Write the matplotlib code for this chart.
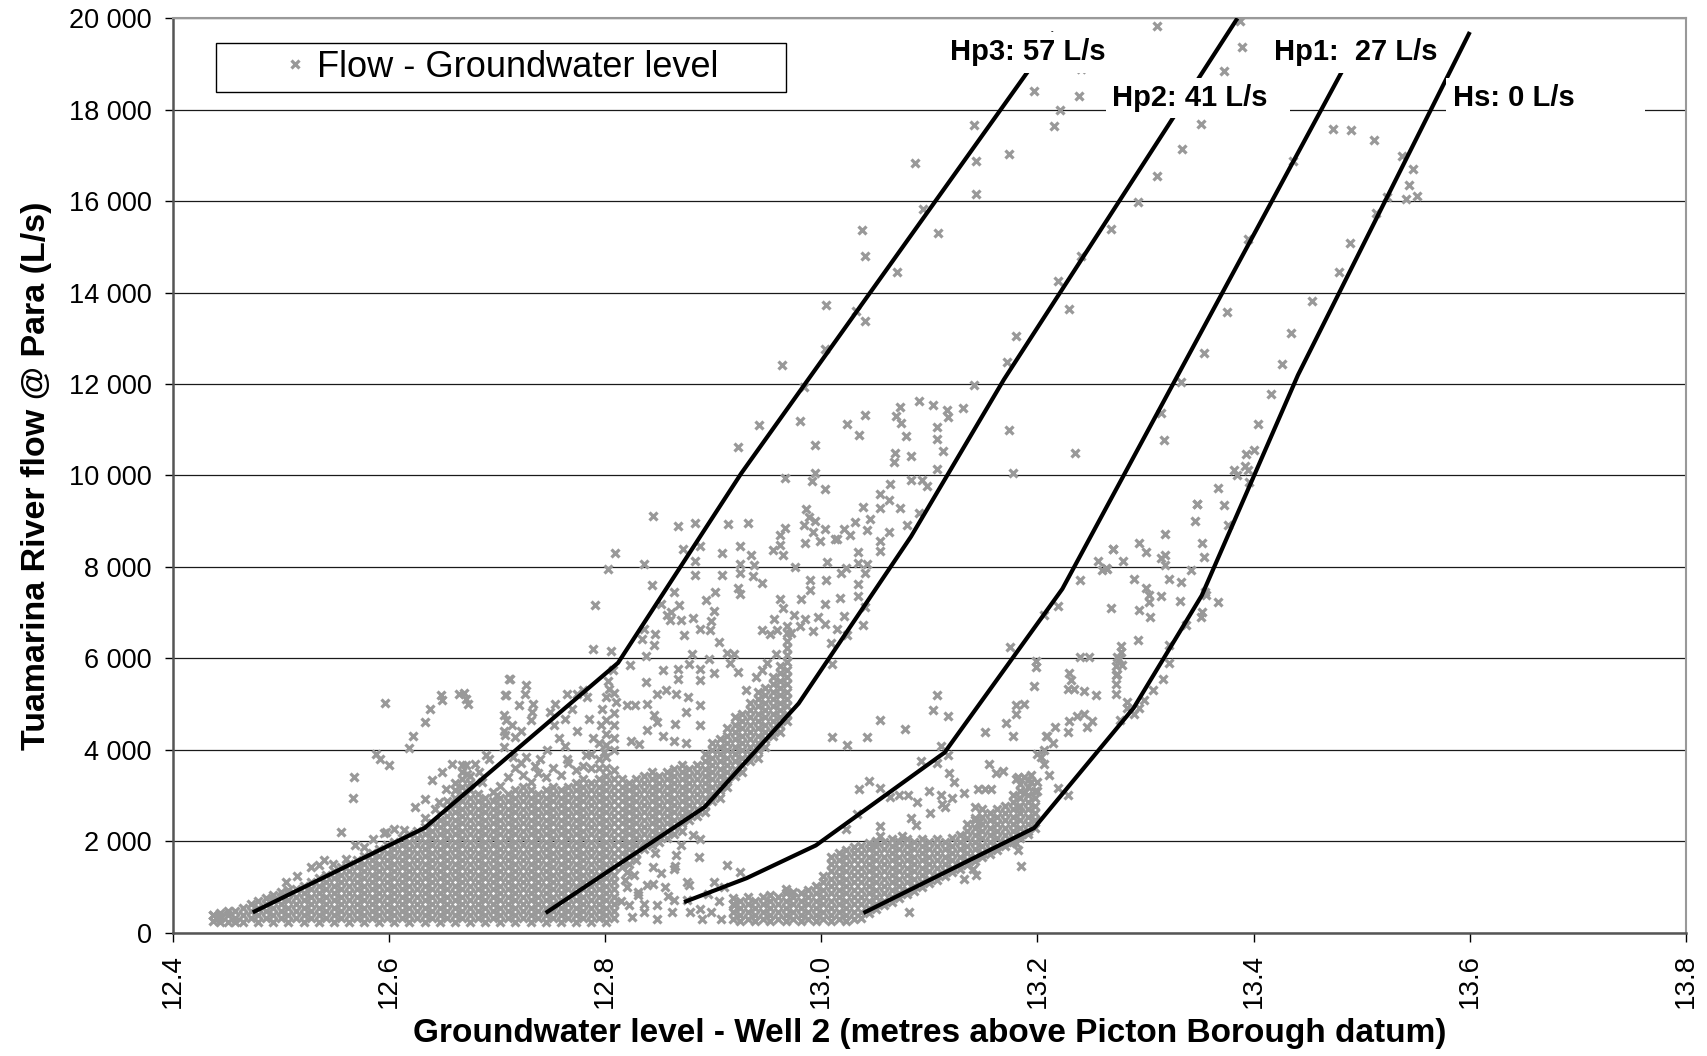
import numpy as np
import matplotlib
matplotlib.use("Agg")
import matplotlib.pyplot as plt
from matplotlib.legend_handler import HandlerLine2D
from matplotlib.ticker import FuncFormatter, MultipleLocator

plt.rcParams['font.family'] = ['Liberation Sans', 'DejaVu Sans']

# === data ===
# dense part of the cloud, column by column: (groundwater level [m], [flows L/s])
cloud_left = [
    (12.437, [250, 380]),
    (12.444, [240, 330, 430]),
    (12.451, [230, 390, 470]),
    (12.458, [230, 310, 470]),
    (12.465, [230, 390, 550]),
    (12.472, [310, 470, 630]),
    (12.479, [230, 390, 550, 690]),
    (12.486, [310, 470, 630, 760]),
    (12.493, [230, 390, 550, 710, 820]),
    (12.500, [310, 470, 630, 790, 880]),
    (12.507, [230, 390, 550, 710, 870, 930]),
    (12.514, [310, 470, 630, 790, 950]),
    (12.521, [230, 390, 550, 710, 870, 1030]),
    (12.528, [310, 470, 630, 790, 950, 1110]),
    (12.535, [230, 390, 550, 710, 870, 1030, 1190]),
    (12.542, [310, 470, 630, 790, 950, 1110, 1270]),
    (12.549, [230, 390, 550, 710, 870, 1030, 1190, 1350]),
    (12.556, [310, 470, 630, 790, 950, 1110, 1270, 1430]),
    (12.563, [230, 390, 550, 710, 870, 1030, 1190, 1350, 1510]),
    (12.570, [310, 470, 630, 790, 950, 1110, 1270, 1430, 1590]),
    (12.577, [230, 390, 550, 710, 870, 1030, 1190, 1350, 1510, 1670]),
    (12.584, [310, 470, 630, 790, 950, 1110, 1270, 1430, 1590, 1750]),
    (12.591, [230, 390, 550, 710, 870, 1030, 1190, 1350, 1510, 1670, 1830]),
    (12.598, [310, 470, 630, 790, 950, 1110, 1270, 1430, 1590, 1750, 1910]),
    (12.605, [230, 390, 550, 710, 870, 1030, 1190, 1350, 1510, 1670, 1830, 1990]),
    (12.612, [310, 470, 630, 790, 950, 1110, 1270, 1430, 1590, 1750, 1910, 2070]),
    (12.619, [230, 390, 550, 710, 870, 1030, 1190, 1350, 1510, 1670, 1830, 1990, 2150]),
    (12.626, [310, 470, 630, 790, 950, 1110, 1270, 1430, 1590, 1750, 1910, 2070, 2230]),
    (12.633, [230, 390, 550, 710, 870, 1030, 1190, 1350, 1510, 1670, 1830, 1990, 2150, 2310]),
    (12.640, [310, 470, 630, 790, 950, 1110, 1270, 1430, 1590, 1750, 1910, 2070, 2230, 2390]),
    (12.647, [230, 390, 550, 710, 870, 1030, 1190, 1350, 1510, 1670, 1830, 1990, 2150, 2310, 2470]),
    (12.654, [310, 470, 630, 790, 950, 1110, 1270, 1430, 1590, 1750, 1910, 2070, 2230, 2390, 2550, 2710, 2870]),
    (12.661, [230, 390, 550, 710, 870, 1030, 1190, 1350, 1510, 1670, 1830, 1990, 2150, 2310, 2470, 2630, 2790, 2950, 3110, 3270]),
    (12.668, [310, 470, 630, 790, 950, 1110, 1270, 1430, 1590, 1750, 1910, 2070, 2230, 2390, 2550, 2710, 2870, 3030, 3190, 3350, 3510, 3670]),
    (12.675, [230, 390, 550, 710, 870, 1030, 1190, 1350, 1510, 1670, 1830, 1990, 2150, 2310, 2470, 2630, 2790, 2950, 3110, 3270, 3430]),
    (12.682, [310, 470, 630, 790, 950, 1110, 1270, 1430, 1590, 1750, 1910, 2070, 2230, 2390, 2550, 2710, 2870, 3030]),
    (12.689, [230, 390, 550, 710, 870, 1030, 1190, 1350, 1510, 1670, 1830, 1990, 2150, 2310, 2470, 2630, 2790, 2950]),
    (12.696, [310, 470, 630, 790, 950, 1110, 1270, 1430, 1590, 1750, 1910, 2070, 2230, 2390, 2550, 2710, 2870]),
    (12.703, [230, 390, 550, 710, 870, 1030, 1190, 1350, 1510, 1670, 1830, 1990, 2150, 2310, 2470, 2630, 2790, 2950]),
    (12.710, [310, 470, 630, 790, 950, 1110, 1270, 1430, 1590, 1750, 1910, 2070, 2230, 2390, 2550, 2710, 2870, 3030]),
    (12.717, [230, 390, 550, 710, 870, 1030, 1190, 1350, 1510, 1670, 1830, 1990, 2150, 2310, 2470, 2630, 2790, 2950, 3110]),
    (12.724, [310, 470, 630, 790, 950, 1110, 1270, 1430, 1590, 1750, 1910, 2070, 2230, 2390, 2550, 2710, 2870, 3030, 3190]),
    (12.731, [230, 390, 550, 710, 870, 1030, 1190, 1350, 1510, 1670, 1830, 1990, 2150, 2310, 2470, 2630, 2790, 2950, 3110]),
    (12.738, [310, 470, 630, 790, 950, 1110, 1270, 1430, 1590, 1750, 1910, 2070, 2230, 2390, 2550, 2710, 2870, 3030]),
    (12.745, [230, 390, 550, 710, 870, 1030, 1190, 1350, 1510, 1670, 1830, 1990, 2150, 2310, 2470, 2630, 2790, 2950, 3110]),
    (12.752, [310, 470, 630, 790, 950, 1110, 1270, 1430, 1590, 1750, 1910, 2070, 2230, 2390, 2550, 2710, 2870, 3030, 3190]),
    (12.759, [230, 390, 550, 710, 870, 1030, 1190, 1350, 1510, 1670, 1830, 1990, 2150, 2310, 2470, 2630, 2790, 2950, 3110]),
    (12.766, [310, 470, 630, 790, 950, 1110, 1270, 1430, 1590, 1750, 1910, 2070, 2230, 2390, 2550, 2710, 2870, 3030, 3190]),
    (12.773, [230, 390, 550, 710, 870, 1030, 1190, 1350, 1510, 1670, 1830, 1990, 2150, 2310, 2470, 2630, 2790, 2950, 3110, 3270]),
    (12.780, [310, 470, 630, 790, 950, 1110, 1270, 1430, 1590, 1750, 1910, 2070, 2230, 2390, 2550, 2710, 2870, 3030, 3190, 3350]),
    (12.787, [230, 390, 550, 710, 870, 1030, 1190, 1350, 1510, 1670, 1830, 1990, 2150, 2310, 2470, 2630, 2790, 2950, 3110, 3270]),
    (12.794, [310, 470, 630, 790, 950, 1110, 1270, 1430, 1590, 1750, 1910, 2070, 2230, 2390, 2550, 2710, 2870, 3030, 3190, 3350]),
    (12.801, [230, 390, 550, 710, 870, 1030, 1190, 1350, 1510, 1670, 1830, 1990, 2150, 2310, 2470, 2630, 2790, 2950, 3110, 3270, 3430]),
    (12.808, [310, 470, 630, 790, 950, 1110, 1270, 1430, 1590, 1750, 1910, 2070, 2230, 2390, 2550, 2710, 2870, 3030, 3190, 3350]),
]

cloud_mid = [
    (12.816, [1430, 1590, 1750, 1910, 2070, 2230, 2390, 2550, 2710, 2870, 3030, 3190, 3350]),
    (12.822, [1510, 1670, 1830, 1990, 2150, 2310, 2470, 2630, 2790, 2950, 3110, 3270]),
    (12.829, [1590, 1750, 1910, 2070, 2230, 2390, 2550, 2710, 2870, 3030, 3190, 3350]),
    (12.836, [1830, 1990, 2150, 2310, 2470, 2630, 2790, 2950, 3110, 3270, 3430]),
    (12.843, [1910, 2070, 2230, 2390, 2550, 2710, 2870, 3030, 3190, 3350, 3510]),
    (12.850, [1990, 2150, 2310, 2470, 2630, 2790, 2950, 3110, 3270, 3430]),
    (12.857, [2070, 2230, 2390, 2550, 2710, 2870, 3030, 3190, 3350, 3510]),
    (12.864, [2150, 2310, 2470, 2630, 2790, 2950, 3110, 3270, 3430, 3590]),
    (12.871, [2230, 2390, 2550, 2710, 2870, 3030, 3190, 3350, 3510, 3670]),
    (12.878, [2470, 2630, 2790, 2950, 3110, 3270, 3430, 3590]),
    (12.885, [2550, 2710, 2870, 3030, 3190, 3350, 3510, 3670]),
    (12.892, [2630, 2790, 2950, 3110, 3270, 3430, 3590, 3750, 3910]),
    (12.899, [2870, 3030, 3190, 3350, 3510, 3670, 3830, 3990, 4150]),
    (12.906, [2950, 3110, 3270, 3430, 3590, 3750, 3910, 4070, 4230]),
    (12.913, [3190, 3350, 3510, 3670, 3830, 3990, 4150, 4310, 4470]),
    (12.920, [3430, 3590, 3750, 3910, 4070, 4230, 4390, 4550, 4710]),
    (12.927, [3510, 3670, 3830, 3990, 4150, 4310, 4470, 4630, 4790]),
    (12.934, [3750, 3910, 4070, 4230, 4390, 4550, 4710, 4870, 5030]),
    (12.941, [3830, 3990, 4150, 4310, 4470, 4630, 4790, 4950, 5110, 5270]),
    (12.948, [4070, 4230, 4390, 4550, 4710, 4870, 5030, 5190, 5350]),
    (12.955, [4310, 4470, 4630, 4790, 4950, 5110, 5270, 5430, 5590]),
    (12.962, [4390, 4550, 4710, 4870, 5030, 5190, 5350, 5510, 5670, 5830]),
    (12.968, [4630, 4790, 4950, 5110, 5270, 5430, 5590, 5750, 5910, 6070, 6230, 6390, 6550, 6710]),
]

cloud_low = [
    (12.918, [300, 460, 620, 760]),
    (12.925, [250, 380, 540, 700]),
    (12.932, [300, 460, 620, 780]),
    (12.939, [250, 380, 540, 700]),
    (12.946, [300, 460, 620, 780]),
    (12.953, [250, 380, 540, 700, 820]),
    (12.960, [300, 460, 620, 780]),
    (12.967, [250, 380, 540, 700, 860, 960]),
    (12.974, [300, 460, 620, 780, 900]),
    (12.981, [250, 380, 540, 700, 860]),
    (12.988, [300, 460, 620, 780, 940]),
    (12.995, [250, 380, 540, 700, 860, 1020]),
    (13.002, [300, 460, 620, 780, 940, 1100, 1250]),
    (13.009, [250, 380, 540, 700, 860, 1020, 1180, 1340, 1500, 1650]),
    (13.016, [300, 460, 620, 780, 940, 1100, 1260, 1420, 1580, 1740]),
    (13.023, [250, 380, 540, 700, 860, 1020, 1180, 1340, 1500, 1660, 1800]),
    (13.030, [300, 460, 620, 780, 940, 1100, 1260, 1420, 1580, 1740, 1880]),
    (13.037, [330, 460, 620, 780, 940, 1100, 1260, 1420, 1580, 1740, 1900]),
    (13.044, [420, 540, 700, 860, 1020, 1180, 1340, 1500, 1660, 1820, 1960]),
    (13.051, [520, 620, 780, 940, 1100, 1260, 1420, 1580, 1740, 1900, 2000]),
    (13.058, [600, 700, 860, 1020, 1180, 1340, 1500, 1660, 1820, 1980]),
    (13.065, [680, 780, 940, 1100, 1260, 1420, 1580, 1740, 1900, 2040]),
    (13.072, [760, 860, 1020, 1180, 1340, 1500, 1660, 1820, 1980]),
    (13.079, [840, 940, 1100, 1260, 1420, 1580, 1740, 1900, 2040]),
    (13.086, [920, 1020, 1180, 1340, 1500, 1660, 1820, 1980]),
    (13.093, [1000, 1100, 1260, 1420, 1580, 1740, 1900, 2040]),
    (13.100, [1080, 1180, 1340, 1500, 1660, 1820, 1980]),
    (13.107, [1160, 1260, 1420, 1580, 1740, 1900, 2040]),
    (13.114, [1240, 1340, 1500, 1660, 1820, 1980]),
    (13.121, [1320, 1420, 1580, 1740, 1900, 2060]),
    (13.128, [1400, 1500, 1660, 1820, 1980, 2140]),
    (13.135, [1480, 1580, 1740, 1900, 2060, 2220, 2380]),
    (13.142, [1560, 1660, 1820, 1980, 2140, 2300, 2460]),
    (13.149, [1650, 1740, 1900, 2060, 2220, 2380, 2540, 2700]),
    (13.156, [1730, 1820, 1980, 2140, 2300, 2460, 2620]),
    (13.163, [1810, 1900, 2060, 2220, 2380, 2540, 2700]),
    (13.170, [1900, 1980, 2140, 2300, 2460, 2620, 2780]),
    (13.177, [1980, 2060, 2220, 2380, 2540, 2700, 2860, 3020]),
    (13.184, [2060, 2140, 2300, 2460, 2620, 2780, 2940, 3100, 3260]),
    (13.191, [2150, 2220, 2380, 2540, 2700, 2860, 3020, 3180, 3340]),
    (13.198, [2300, 2460, 2620, 2780, 2940, 3100]),
]

# loose points: (groundwater level [m], flow [L/s])
loose_left = [
    (12.437, 379), (12.444, 350), (12.505, 1100), (12.515, 1230), (12.528, 1437),
    (12.535, 1473), (12.540, 1583), (12.548, 1500), (12.556, 2202), (12.560, 1620),
    (12.569, 1910), (12.577, 1873), (12.585, 2056), (12.595, 2180), (12.597, 2202),
    (12.605, 2275), (12.614, 2253), (12.624, 2749), (12.633, 2516), (12.633, 2931),
    (12.643, 2712), (12.646, 2859), (12.640, 3332), (12.649, 3514), (12.653, 3149),
    (12.658, 3696), (12.671, 3660), (12.672, 3478), (12.680, 3696), (12.690, 3879),
    (12.693, 3806), (12.683, 3514), (12.696, 3076), (12.700, 3003), (12.686, 3300),
    (12.567, 2953), (12.568, 3404), (12.596, 5031), (12.588, 3915), (12.592, 3791),
    (12.600, 3660), (12.619, 4047), (12.622, 4295), (12.633, 4608), (12.638, 4893),
    (12.648, 5192), (12.649, 5082), (12.665, 5213), (12.669, 5242), (12.673, 5009),
    (12.671, 5120), (12.706, 4061), (12.707, 4316), (12.708, 4644), (12.708, 5191),
    (12.711, 5556),
]

loose_mid = [
    (12.712, 5555), (12.727, 5409), (12.726, 5227), (12.707, 5190), (12.720, 4972),
    (12.733, 5009), (12.732, 4826), (12.731, 4644), (12.706, 4753), (12.714, 4549),
    (12.706, 4403), (12.722, 4403), (12.717, 4279), (12.754, 5009), (12.749, 4826),
    (12.753, 4534), (12.765, 5227), (12.774, 5227), (12.783, 5150), (12.763, 4680),
    (12.769, 4900), (12.780, 5300), (12.774, 4403), (12.757, 4257), (12.763, 4080),
    (12.785, 4680), (12.789, 4257), (12.796, 4534), (12.797, 4899), (12.804, 5336),
    (12.807, 5737), (12.803, 5500), (12.810, 5045), (12.799, 3950), (12.808, 4000),
    (12.740, 3804), (12.727, 3840), (12.746, 4000), (12.782, 3877), (12.765, 3800),
    (12.791, 7174), (12.789, 6197), (12.805, 6160), (12.809, 8311), (12.803, 7946),
    (12.801, 3600), (12.801, 3850), (12.801, 4100), (12.801, 4350), (12.801, 4650),
    (12.801, 5150), (12.808, 3550), (12.808, 4250), (12.808, 4550), (12.808, 4800),
    (12.808, 5250), (12.794, 3600), (12.794, 3800), (12.794, 4150), (12.787, 3600),
    (12.787, 3900), (12.703, 3200), (12.710, 3400), (12.717, 3600), (12.724, 3450),
    (12.731, 3300), (12.738, 3500), (12.745, 3400), (12.752, 3600), (12.759, 3450),
    (12.766, 3700), (12.773, 3550), (12.780, 3650), (12.715, 3850), (12.722, 3700),
    (12.735, 3650),
    # between the Hp3 and Hp2 lines
    (12.820, 4972), (12.828, 4972), (12.839, 5009), (12.824, 4184), (12.831, 4133),
    (12.839, 4439), (12.845, 4753), (12.854, 4293), (12.864, 4184), (12.865, 4571),
    (12.875, 4155), (12.888, 4534), (12.888, 4972), (12.875, 4826), (12.866, 5227),
    (12.877, 5150), (12.838, 5482), (12.848, 5227), (12.856, 5300), (12.848, 4614),
    (12.823, 5847), (12.838, 6050), (12.834, 6430), (12.845, 6284), (12.836, 6649),
    (12.846, 6539), (12.854, 5737), (12.867, 5774), (12.867, 5555), (12.878, 5883),
    (12.888, 5759), (12.888, 5518), (12.880, 6101), (12.896, 5993), (12.905, 6357),
    (12.913, 6116), (12.919, 6100), (12.916, 5905), (12.923, 5701), (12.901, 5679),
    (12.857, 6941), (12.860, 6830), (12.864, 7444), (12.843, 7604), (12.868, 7174),
    (12.852, 7196), (12.861, 7014), (12.870, 6846), (12.881, 6883), (12.888, 6649),
    (12.873, 6518), (12.893, 7269), (12.902, 7451), (12.901, 7028), (12.898, 6810),
    (12.897, 6628), (12.844, 9113), (12.867, 8887), (12.883, 8967), (12.914, 8946),
    (12.932, 8967), (12.966, 8851), (12.986, 9272), (12.989, 9100), (12.994, 9000),
    (12.984, 8909), (12.992, 8763), (12.985, 8530), (12.999, 8559), (13.013, 8617),
    (13.003, 8836), (12.962, 8690), (12.962, 8471), (12.965, 8267), (12.955, 8362),
    (12.836, 8070), (12.872, 8384), (12.883, 8121), (12.888, 8457), (12.908, 8311),
    (12.925, 8449), (12.935, 8253), (12.938, 8049), (12.925, 8056), (12.925, 7867),
    (12.937, 7794), (12.945, 7648), (12.923, 7546), (12.925, 7415), (12.908, 7816),
    (12.883, 7816), (12.962, 7305), (12.965, 7108), (12.956, 6868), (12.945, 6613),
    (12.953, 6540), (12.959, 6613), (12.975, 6941), (12.981, 7305), (12.990, 7706),
    (12.990, 7488), (13.003, 7196), (13.003, 6758), (13.004, 7721), (13.005, 8100),
    (12.976, 7999), (12.980, 6700), (12.985, 6850), (12.992, 6600), (12.997, 6900),
    (12.972, 6550), (12.966, 9952), (12.994, 10054), (12.991, 9879), (13.003, 9712),
    (12.930, 5300), (12.940, 5600), (12.950, 5900), (12.958, 6100), (12.945, 5750),
    # under the Hp2 line
    (12.820, 1327), (12.839, 1035), (12.844, 1436), (12.864, 1400), (12.870, 1910),
    (12.881, 2129), (12.888, 2056), (12.848, 597), (12.822, 597), (12.836, 634),
    (12.848, 306), (12.862, 452), (12.865, 1450), (12.876, 1108), (12.844, 1071),
    (12.827, 1254), (12.830, 900), (12.864, 707), (12.855, 1000), (12.887, 1655),
    (12.866, 1700), (12.846, 1750), (12.830, 816), (12.836, 452), (12.878, 1035),
    (12.820, 1000), (12.825, 350), (12.815, 700), (12.818, 1150), (12.852, 1300),
    (12.858, 800), (12.876, 707), (12.879, 452), (12.888, 524), (12.898, 452),
    (12.901, 1108), (12.913, 1473), (12.925, 1327), (12.919, 597), (12.907, 306),
    (12.895, 850), (12.905, 700), (12.890, 300), (12.910, 1000),
]

loose_upper = [
    (13.311, 19830), (13.240, 18881), (13.197, 18407), (13.238, 18298), (13.221, 17999),
    (13.215, 17642), (13.141, 17671), (13.174, 17029), (13.143, 16883), (13.143, 16161),
    (13.087, 16840), (13.094, 15819), (13.108, 15309), (13.038, 15367), (13.040, 14799),
    (13.070, 14449), (13.311, 16551), (13.293, 15982), (13.268, 15384), (13.240, 14799),
    (13.219, 14252), (13.229, 13647), (13.180, 13049), (13.172, 12480), (13.141, 11969),
    (13.004, 13721), (13.032, 13590), (13.040, 13371), (13.003, 12758), (12.964, 12407),
    (12.984, 11933), (12.942, 11094), (12.980, 11189), (12.923, 10620), (12.994, 10671),
    (13.024, 11131), (13.040, 11313), (13.035, 10875), (13.069, 11298), (13.073, 11495),
    (13.074, 11153), (13.078, 10861), (13.090, 11627), (13.103, 11547), (13.116, 11423),
    (13.117, 11277), (13.107, 11058), (13.107, 10803), (13.131, 11474), (13.174, 10985),
    (13.068, 10482), (13.083, 10423), (13.113, 10540), (13.235, 10482),
    (13.387, 19950), (13.389, 19372), (13.373, 18850), (13.351, 17694), (13.334, 17133),
    (13.473, 17584), (13.490, 17562), (13.511, 17329), (13.537, 16986), (13.547, 16695),
    (13.544, 16345), (13.551, 16112), (13.541, 16054), (13.523, 16090), (13.513, 15748),
    (13.436, 16870), (13.489, 15086), (13.479, 14452), (13.454, 13810), (13.435, 13118),
    (13.426, 12447), (13.416, 11791), (13.404, 11135), (13.400, 10552), (13.393, 10479),
    (13.392, 10209), (13.395, 10115), (13.382, 10115), (13.385, 10000), (13.396, 9858),
    (13.367, 9727), (13.348, 9370), (13.373, 9348), (13.395, 15180), (13.375, 13576),
    (13.354, 12687), (13.333, 12045), (13.314, 11367), (13.317, 10771),
]

loose_right = [
    (13.064, 9812), (13.083, 9890), (13.093, 9906), (13.098, 9773), (13.107, 10149),
    (13.054, 9601), (13.063, 9461), (13.039, 9305), (13.054, 9289), (13.073, 9281),
    (13.045, 9047), (13.031, 8992), (13.021, 8836), (13.015, 8602), (13.027, 8695),
    (13.042, 8797), (13.054, 8563), (13.054, 8352), (13.034, 8328), (13.034, 8094),
    (13.042, 8055), (13.040, 7860), (13.018, 7860), (13.023, 7977), (13.079, 8914),
    (13.063, 8758), (13.090, 9172), (13.017, 7313), (13.034, 7626), (13.034, 7368),
    (13.040, 7118), (13.021, 6922), (13.015, 6649), (13.024, 6508), (13.039, 6727),
    (13.010, 5867), (13.009, 6336), (13.067, 10300), (13.177, 10063),
    (13.270, 8385), (13.256, 8127), (13.263, 7971), (13.239, 7722), (13.219, 7152),
    (13.206, 6957), (13.175, 6253), (13.199, 5800), (13.231, 5519), (13.239, 6026),
    (13.248, 6026), (13.277, 6260), (13.274, 6026), (13.273, 5831), (13.273, 5636),
    (13.283, 5050), (13.197, 5401), (13.199, 5948), (13.180, 4776), (13.180, 4971),
    (13.188, 5010), (13.151, 4385), (13.171, 4580), (13.177, 4307), (13.155, 3682),
    (13.168, 3525), (13.162, 3500), (13.206, 3682), (13.211, 3447), (13.200, 3300),
    (13.219, 3173), (13.228, 3017), (13.145, 3134), (13.151, 3134), (13.157, 3134),
    (13.142, 2743), (13.142, 2509), (13.145, 2400), (13.180, 3368), (13.188, 3400),
    (13.194, 3447), (13.200, 3100), (13.185, 1455), (13.182, 1806), (13.180, 1962),
    (13.132, 1181), (13.143, 1259), (13.140, 1400), (13.081, 449),
    (13.107, 5188), (13.103, 4867), (13.117, 4736), (13.054, 4658), (13.077, 4447),
    (13.042, 4283), (13.010, 4283), (13.024, 4095), (13.092, 3744), (13.107, 3721),
    (13.117, 3877), (13.111, 4072), (13.044, 3314), (13.035, 3134), (13.054, 3173),
    (13.064, 2978), (13.072, 3017), (13.080, 3017), (13.089, 2861), (13.100, 3095),
    (13.111, 3017), (13.114, 2743), (13.118, 3486), (13.123, 3290), (13.083, 2509),
    (13.088, 2353), (13.033, 2600), (13.023, 2275), (13.054, 2337), (13.054, 2118),
    (13.075, 2118), (13.101, 2626), (13.112, 2821), (13.121, 2938), (13.132, 3056),
    (13.182, 3408), (13.203, 3838), (13.214, 4150), (13.208, 4300), (13.228, 4385),
    (13.237, 4737), (13.243, 4776), (13.246, 4502), (13.250, 4620), (13.229, 4620),
    (13.254, 5206), (13.228, 5323), (13.234, 5323), (13.243, 5284), (13.229, 5675),
    (13.216, 4502), (13.209, 4307), (13.206, 3995), (13.200, 3916), (13.194, 3290),
    (13.188, 3055), (13.182, 2742),
    (13.348, 9383), (13.346, 8997), (13.376, 8909), (13.318, 8712), (13.294, 8523),
    (13.300, 8326), (13.352, 8523), (13.354, 8209), (13.270, 8399), (13.279, 8122),
    (13.314, 8195), (13.318, 8268), (13.318, 8035), (13.260, 7926), (13.264, 7948),
    (13.342, 7940), (13.289, 7728), (13.322, 7728), (13.333, 7670), (13.300, 7546),
    (13.303, 7393), (13.303, 7232), (13.314, 7356), (13.332, 7262), (13.367, 7225),
    (13.355, 7451), (13.268, 7108), (13.294, 7064), (13.304, 6903), (13.352, 7013),
    (13.351, 6903), (13.337, 6735), (13.293, 6407), (13.322, 6283), (13.277, 6138),
    (13.275, 5993), (13.278, 5847), (13.274, 5665), (13.273, 5445), (13.273, 5227),
    (13.322, 5898), (13.316, 5555), (13.307, 5300), (13.299, 5081), (13.294, 4913),
    (13.283, 4913), (13.289, 4789), (13.276, 4642), (13.356, 7390),
]

# hand-drawn envelope lines (vertices)
hp3_x = [12.474, 12.633, 12.812, 12.926, 13.194, 13.215]
hp3_y = [444, 2291, 5902, 10048, 18931, 19700]
hp2_x = [12.745, 12.892, 12.979, 13.083, 13.169, 13.385]
hp2_y = [430, 2745, 5012, 8663, 12100, 20000]
hp1_x = [12.873, 12.931, 12.995, 13.114, 13.223, 13.498]
hp1_y = [668, 1193, 1909, 3938, 7518, 19550]
hs_x = [13.039, 13.197, 13.289, 13.352, 13.441, 13.600]
hs_y = [430, 2291, 4916, 7375, 12196, 19700]

line_labels = ['Hp3: 57 L/s', 'Hp2: 41 L/s', 'Hp1:  27 L/s', 'Hs: 0 L/s']


def columns_to_points(cols):
    xs, ys = [], []
    for x, flows in cols:
        xs += [x] * len(flows)
        ys += flows
    return xs, ys


gw, flow = [], []
for cols in (cloud_left, cloud_mid, cloud_low):
    cx, cy = columns_to_points(cols)
    gw += cx
    flow += cy
for pts in (loose_left, loose_mid, loose_upper, loose_right):
    gw += [p[0] for p in pts]
    flow += [p[1] for p in pts]

# === figure ===
fig = plt.figure(figsize=(17.07, 10.56), dpi=100)
ax = fig.add_axes([0.1012, 0.1168, 0.8865, 0.8659])

pts, = ax.plot(gw, flow, linestyle='none', marker='x', color='#999999',
               ms=5.8, mew=2.3, zorder=2, label='Flow - Groundwater level')

for lx, ly in ((hp3_x, hp3_y), (hp2_x, hp2_y), (hp1_x, hp1_y), (hs_x, hs_y)):
    ax.plot(lx, ly, color='black', lw=3.0, zorder=3, solid_capstyle='butt')

# label placement (left edge, baseline)
label_pos = [(13.119, 19079), (13.269, 18088), (13.419, 19079), (13.584, 18088)]
label_text = [line_labels[0], line_labels[1] + '  ', line_labels[2],
              line_labels[3] + '        ']
for (tx, ty), s in zip(label_pos, label_text):
    ax.text(tx, ty, s, fontsize=21, fontweight='bold', ha='left', va='baseline',
            zorder=5, bbox=dict(facecolor='white', edgecolor='none', pad=4.5))

ax.set_xlim(12.4, 13.8)
ax.set_ylim(0, 20000)
ax.xaxis.set_major_locator(MultipleLocator(0.2))
ax.yaxis.set_major_locator(MultipleLocator(2000))
ax.xaxis.set_major_formatter(FuncFormatter(lambda v, p: f"{v:.1f}"))
ax.yaxis.set_major_formatter(FuncFormatter(lambda v, p: f"{int(round(v)):,}".replace(",", " ")))

ax.grid(axis='y', color='#1a1a1a', lw=0.9)
ax.set_axisbelow(True)

ax.tick_params(axis='y', length=6, width=1, pad=9, labelsize=19.5, colors='black')
ax.tick_params(axis='x', length=6.5, width=1, pad=9, labelsize=20, labelrotation=90)

for side in ('top', 'right'):
    ax.spines[side].set_color('#999999')
    ax.spines[side].set_linewidth(1.5)
for side in ('left', 'bottom'):
    ax.spines[side].set_color('#555555')
    ax.spines[side].set_linewidth(1.8)

ax.set_xlabel('Groundwater level - Well 2 (metres above Picton Borough datum)',
              fontsize=24, fontweight='bold')
ax.set_ylabel('Tuamarina River flow @ Para (L/s)', fontsize=24.5, fontweight='bold')
ax.xaxis.set_label_coords(0.5, -0.093)
ax.yaxis.set_label_coords(-0.080, 0.5)

leg = ax.legend(loc='upper left', bbox_to_anchor=(0.0288, 0.9735), borderaxespad=0,
                fontsize=26, frameon=True, fancybox=False, edgecolor='black',
                framealpha=1, borderpad=0.2, handlelength=2.5, handletextpad=0.1,
                handler_map={pts: HandlerLine2D(numpoints=1, xpad=1.47)})
leg.get_frame().set_linewidth(1.0)
leg.texts[0].set_text('Flow - Groundwater level      ')

fig.savefig('out.png', dpi=100)
